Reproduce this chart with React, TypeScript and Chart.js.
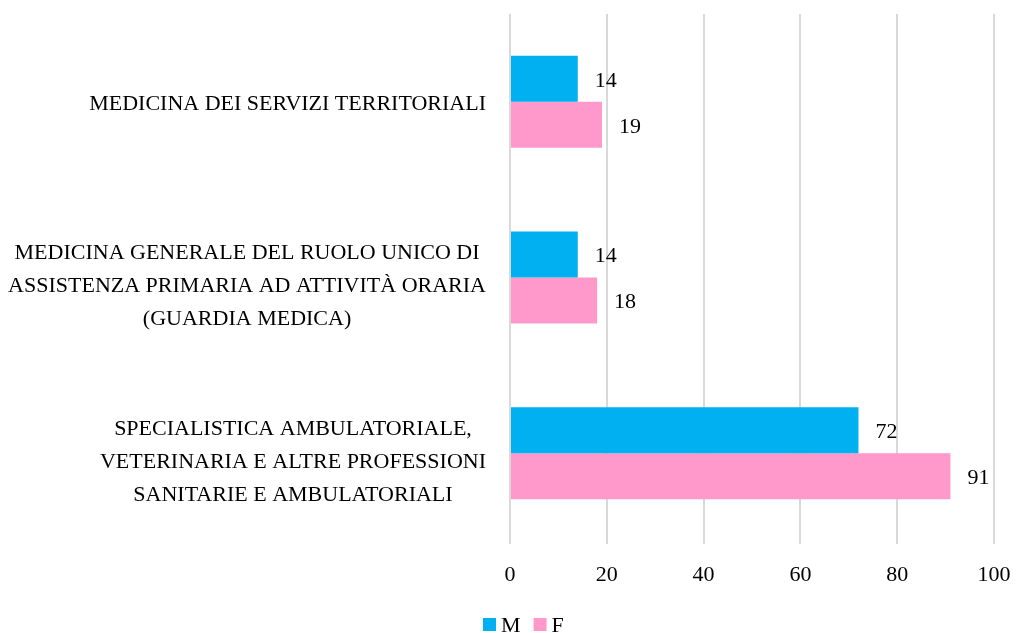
import React, { useEffect, useRef } from "react";
import { Chart, registerables } from "chart.js";

Chart.register(...registerables);

// ---- data ----
const categories: string[][] = [
  ["MEDICINA DEI SERVIZI TERRITORIALI"],
  [
    "MEDICINA GENERALE DEL RUOLO UNICO DI",
    "ASSISTENZA PRIMARIA AD ATTIVITÀ ORARIA",
    "(GUARDIA MEDICA)",
  ],
  [
    "SPECIALISTICA AMBULATORIALE,",
    "VETERINARIA E ALTRE PROFESSIONI",
    "SANITARIE E AMBULATORIALI",
  ],
];
const seriesNames = ["M", "F"];
const maleValues = [14, 14, 72];
const femaleValues = [19, 18, 91];
const xTickValues = [0, 20, 40, 60, 80, 100];

// ---- styles ----
const FONT_FAMILY = "'Liberation Serif', 'Times New Roman', serif";
const FONT_SIZE = 22;
const TEXT_COLOR = "#000000";
const SERIES_COLORS = ["#00B0F0", "#FF99CC"];
const GRID_COLOR = "#D9D9D9";
const LINE_GAP = 33;
const LEGEND_LEFT = 483;
const LEGEND_Y = 625;

const valueLabelPlugin = {
  id: "valueLabels",
  afterDatasetsDraw(chart: any) {
    const ctx = chart.ctx;
    ctx.save();
    ctx.font = `${FONT_SIZE}px ${FONT_FAMILY}`;
    ctx.fillStyle = TEXT_COLOR;
    ctx.textAlign = "left";
    ctx.textBaseline = "middle";
    chart.data.datasets.forEach((ds: any, di: number) => {
      const meta = chart.getDatasetMeta(di);
      meta.data.forEach((el: any, i: number) => {
        ctx.fillText(String(ds.data[i]), el.x + 17, el.y + 2);
      });
    });
    ctx.restore();
  },
};

const categoryLabelPlugin = {
  id: "categoryLabels",
  afterDraw(chart: any) {
    const ctx = chart.ctx;
    const yScale = chart.scales.y;
    const area = chart.chartArea;
    ctx.save();
    ctx.font = `${FONT_SIZE}px ${FONT_FAMILY}`;
    ctx.fillStyle = TEXT_COLOR;
    ctx.textAlign = "center";
    ctx.textBaseline = "middle";
    categories.forEach((lines, i) => {
      const cy = yScale.getPixelForValue(i);
      const widest = Math.max(...lines.map((l) => ctx.measureText(l).width));
      const cx = area.left - 24 - widest / 2;
      const n = lines.length;
      lines.forEach((line, j) => {
        const ly = cy + 2 + (n - 1) * 3.5 + (j - (n - 1) / 2) * LINE_GAP;
        ctx.fillText(line, cx, ly);
      });
    });
    ctx.restore();
  },
};

const legendPlugin = {
  id: "customLegend",
  afterDraw(chart: any) {
    const ctx = chart.ctx;
    ctx.save();
    ctx.font = `${FONT_SIZE}px ${FONT_FAMILY}`;
    ctx.textAlign = "left";
    ctx.textBaseline = "middle";
    let x = LEGEND_LEFT;
    chart.data.datasets.forEach((ds: any) => {
      ctx.fillStyle = ds.backgroundColor;
      ctx.fillRect(x, LEGEND_Y - 7, 13, 13);
      x += 13 + 5;
      ctx.fillStyle = TEXT_COLOR;
      ctx.fillText(ds.label, x, LEGEND_Y + 1);
      x += ctx.measureText(ds.label).width + 13;
    });
    ctx.restore();
  },
};

export default function App() {
  const canvasRef = useRef<HTMLCanvasElement | null>(null);

  useEffect(() => {
    if (!canvasRef.current) return;
    const chart = new Chart(canvasRef.current, {
      type: "bar",
      data: {
        labels: categories,
        datasets: [
          {
            label: seriesNames[0],
            data: maleValues,
            backgroundColor: SERIES_COLORS[0],
            borderWidth: 0,
            categoryPercentage: 0.524,
            barPercentage: 1,
          },
          {
            label: seriesNames[1],
            data: femaleValues,
            backgroundColor: SERIES_COLORS[1],
            borderWidth: 0,
            categoryPercentage: 0.524,
            barPercentage: 1,
          },
        ],
      },
      options: {
        indexAxis: "y",
        animation: false,
        responsive: false,
        maintainAspectRatio: false,
        layout: { padding: { top: 14, right: 22, left: 0, bottom: 36 } },
        plugins: {
          tooltip: { enabled: false },
          legend: { display: false },
        },
        scales: {
          x: {
            type: "linear",
            min: xTickValues[0],
            max: xTickValues[xTickValues.length - 1],
            ticks: {
              stepSize: xTickValues[1] - xTickValues[0],
              color: TEXT_COLOR,
              font: { family: FONT_FAMILY, size: FONT_SIZE },
              padding: 18,
            },
            grid: {
              color: GRID_COLOR,
              lineWidth: 2,
              drawTicks: true,
              tickLength: 3,
            },
            border: { display: false },
            afterFit(scale: any) {
              scale.height = 56;
              scale.paddingRight = 0;
              scale.paddingLeft = 0;
            },
          },
          y: {
            type: "category",
            ticks: { display: false },
            grid: { display: false, drawTicks: false },
            border: { display: false },
            afterFit(scale: any) {
              scale.width = 510;
              scale.paddingTop = 0;
              scale.paddingBottom = 0;
            },
          },
        },
      },
      plugins: [valueLabelPlugin, categoryLabelPlugin, legendPlugin],
    });
    return () => chart.destroy();
  }, []);

  return (
    <div
      style={{
        position: "fixed",
        left: 0,
        top: 0,
        width: 1016,
        height: 633,
        background: "#ffffff",
      }}
    >
      <canvas ref={canvasRef} width={1016} height={633} />
    </div>
  );
}
